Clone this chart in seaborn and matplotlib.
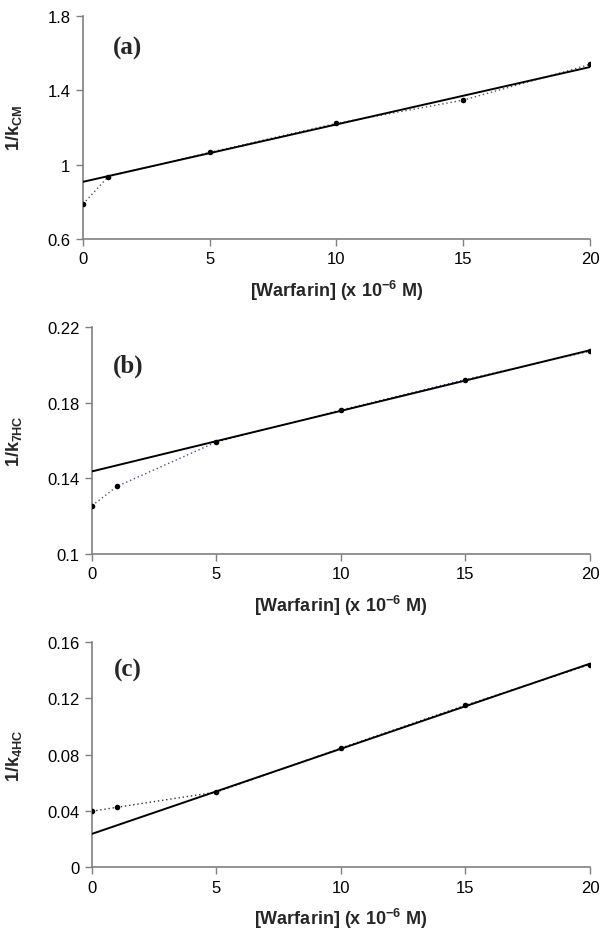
import numpy as np
import pandas as pd
import matplotlib
matplotlib.use("Agg")
import matplotlib.pyplot as plt
import seaborn as sns

# ---- data ----
warfarin = [0, 1, 5, 10, 15, 20]
inv_k_cm = [0.788, 0.936, 1.066, 1.222, 1.347, 1.539]
inv_k_7hc = [0.1255, 0.1357, 0.1592, 0.1761, 0.1922, 0.2072]
inv_k_4hc = [0.0397, 0.0425, 0.0533, 0.0846, 0.1151, 0.1440]
fit_start = 2  # linear fit uses points from x = 5 onward

panel_labels = ["(a)", "(b)", "(c)"]
ylabels = [r"1/k$_{\mathrm{CM}}$", r"1/k$_{\mathrm{7HC}}$", r"1/k$_{\mathrm{4HC}}$"]
yticks = [[0.6, 1.0, 1.4, 1.8], [0.10, 0.14, 0.18, 0.22], [0, 0.04, 0.08, 0.12, 0.16]]
yticklabels = [["0.6", "1", "1.4", "1.8"], ["0.1", "0.14", "0.18", "0.22"],
               ["0", "0.04", "0.08", "0.12", "0.16"]]
xticks = [0, 5, 10, 15, 20]
dot_colors = ["#555555", "#4a4a9a", "#333333"]

sns.set_theme(style="ticks")
plt.rcParams["font.family"] = ["Liberation Sans", "DejaVu Sans"]
plt.rcParams["mathtext.fontset"] = "custom"
plt.rcParams["mathtext.rm"] = "Liberation Sans:bold"
plt.rcParams["mathtext.it"] = "Liberation Sans:bold"
plt.rcParams["mathtext.bf"] = "Liberation Sans:bold"
plt.rcParams["mathtext.default"] = "rm"

fig = plt.figure(figsize=(6.04, 9.37), dpi=100)
positions = [
    [0.1374, 0.7439, 0.8394, 0.2380],
    [0.1523, 0.4077, 0.8245, 0.2423],
    [0.1523, 0.0736, 0.8245, 0.2401],
]
label_pos = [(0.087, 0.86), (0.072, 0.83), (0.072, 0.88)]
ylabel_x = [-0.116, -0.136, -0.136]
series = [inv_k_cm, inv_k_7hc, inv_k_4hc]

for i, (pos, ys) in enumerate(zip(positions, series)):
    ax = fig.add_axes(pos)
    df = pd.DataFrame({"x": warfarin, "y": ys})
    # dotted connecting line
    sns.lineplot(data=df, x="x", y="y", ax=ax, color=dot_colors[i],
                 linestyle=(0, (1, 2)), linewidth=1.0, zorder=2)
    # markers
    sns.scatterplot(data=df, x="x", y="y", ax=ax, color="black", s=16,
                    edgecolor="black", linewidth=0, zorder=4)
    # linear fit line
    fx = np.array(warfarin[fit_start:], dtype=float)
    fy = np.array(ys[fit_start:], dtype=float)
    slope, icpt = np.polyfit(fx, fy, 1)
    xl = np.array([0, 20], dtype=float)
    ax.plot(xl, icpt + slope * xl, color="black", linewidth=1.4, zorder=3)

    ax.set_xlim(0, 20)
    ax.set_ylim(yticks[i][0], yticks[i][-1])
    ax.set_xticks(xticks)
    ax.set_xticklabels([str(t) for t in xticks])
    ax.set_yticks(yticks[i])
    ax.set_yticklabels(yticklabels[i])
    ax.tick_params(axis="both", direction="out", length=5, width=1.0,
                   color="#808080", labelsize=12, labelcolor="black", pad=4)
    for s in ["top", "right"]:
        ax.spines[s].set_visible(False)
    for s in ["left", "bottom"]:
        ax.spines[s].set_color("#808080")
        ax.spines[s].set_linewidth(1.2)
    ax.set_xlabel(r"[Warfarin] (x 10$^{-6}$ M)", fontsize=13, fontweight="bold", labelpad=8)
    ax.set_ylabel(ylabels[i], fontsize=13, fontweight="bold")
    ax.yaxis.set_label_coords(ylabel_x[i], 0.5)
    ax.text(label_pos[i][0], label_pos[i][1], panel_labels[i], transform=ax.transAxes,
            fontsize=18, fontweight="bold", family=["Liberation Serif", "DejaVu Serif"],
            ha="center", va="center")
    ax.set_clip_on(False)

fig.savefig("out.png", dpi=100)
